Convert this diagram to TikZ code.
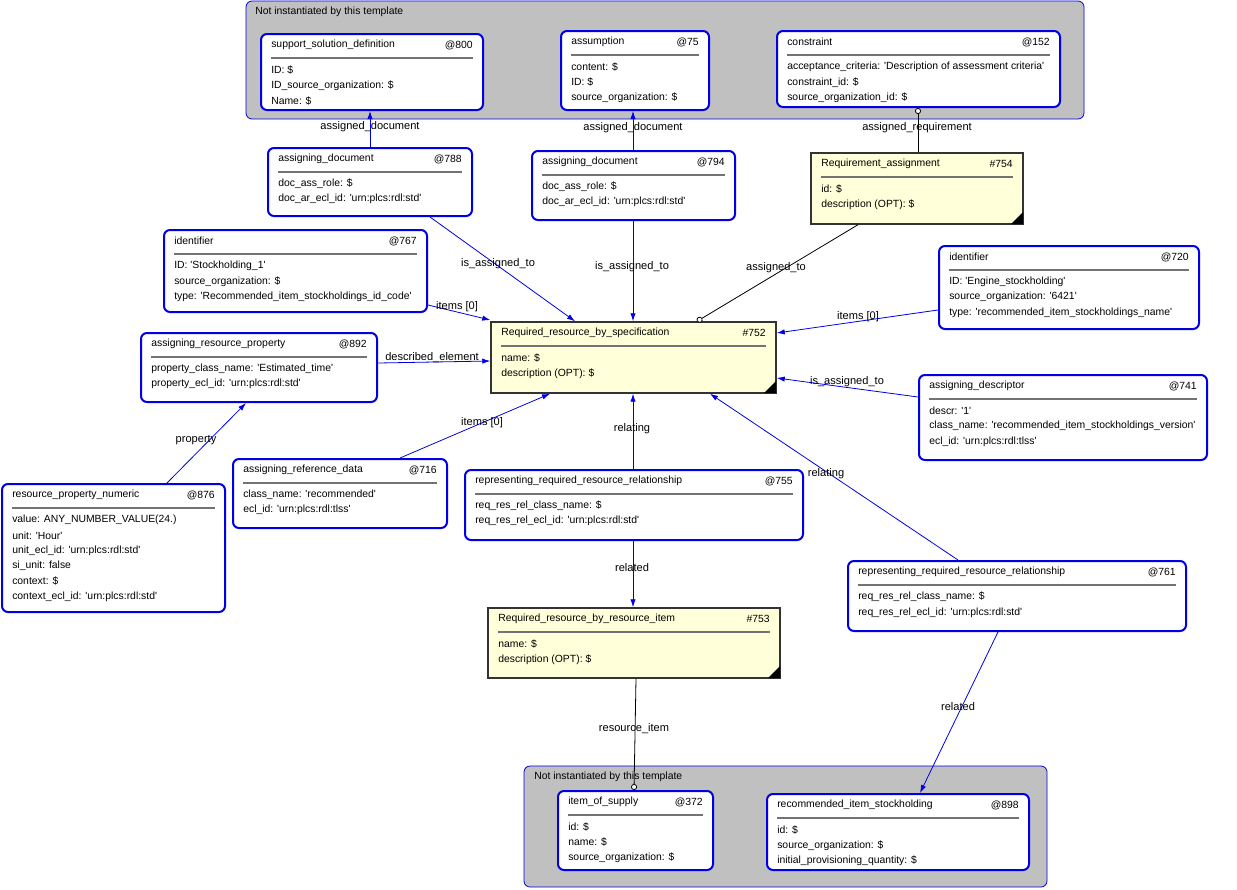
\documentclass[tikz,border=0pt]{standalone}
\usepackage{fontspec}
\setmainfont{Liberation Sans}
\usetikzlibrary{fit,calc,arrows.meta}
\definecolor{bl}{RGB}{0,0,230}
\definecolor{yel}{RGB}{255,255,217}
\definecolor{grp}{RGB}{192,192,192}
\newcommand\qq[1]{\textquotesingle#1\textquotesingle}
\tikzset{
 x=0.75pt,y=-0.75pt,
 every node/.style={font=\fontsize{7.8}{9}\selectfont, inner sep=0pt},
 ent/.style={draw=bl, line width=1.5pt, rounded corners=4.5pt, fill=white},
 req/.style={draw=black!80, line width=1.1pt, fill=yel},
 grpbox/.style={draw=bl, line width=0.6pt, rounded corners=4.5pt, fill=grp},
 con/.style={draw=bl, line width=0.6pt, -{Latex[length=6pt,width=4pt]}},
 ocon/.style={draw=black, line width=0.6pt, -{Circle[open,length=4.5pt,width=4.5pt,fill=white]}},
 lab/.style={font=\fontsize{8.3}{9}\selectfont}
}
\newcommand\ent[9]{%
 \node[fit={(#2,#3)(#4,#5)}, #6] (#1) {};
 \node[anchor=west] at (#2+10,#3+11) {#7};
 \node[anchor=east] at (#4-10,#3+11) {#8};
 \draw[line width=1pt, black!55] (#2+10,#3+24) -- (#4-10,#3+24);
 \foreach \t [count=\i] in {#9} { \node[anchor=west] at (#2+10,#3+36+15.3*\i-15.3) {\t}; }
}
\newcommand\corner[2]{\fill[black] (#1,#2) -- (#1-12,#2) -- (#1,#2-12) -- cycle;}
\begin{document}
\begin{tikzpicture}
\useasboundingbox (0,0) rectangle (1237,889);
% groups
\node[fit={(246,1)(1084,119)}, grpbox] (g1) {};
\node[anchor=west] at (255,12) {Not instantiated by this template};
\node[fit={(524,766)(1047,887)}, grpbox] (g2) {};
\node[anchor=west] at (534,777) {Not instantiated by this template};

\ent{ssd}{261}{34}{483}{110}{ent}{support\_solution\_definition}{@800}{ID: \$,ID\_source\_organization: \$,Name: \$}
\ent{ass}{561}{31}{709}{110}{ent}{assumption}{@75}{content: \$,ID: \$,source\_organization: \$}
\ent{cons}{777}{31}{1060}{107}{ent}{constraint}{@152}{acceptance\_criteria: \qq{Description of assessment criteria},constraint\_id: \$,source\_organization\_id: \$}
\ent{ad788}{268}{148}{472}{216}{ent}{assigning\_document}{@788}{doc\_ass\_role: \$,doc\_ar\_ecl\_id: \qq{urn:plcs:rdl:std}}
\ent{ad794}{532}{151}{735}{220}{ent}{assigning\_document}{@794}{doc\_ass\_role: \$,doc\_ar\_ecl\_id: \qq{urn:plcs:rdl:std}}
\ent{ra}{811}{153}{1023}{224}{req}{Requirement\_assignment}{\#754}{id: \$,description (OPT): \$}
\corner{1023}{224}
\ent{id767}{164}{230}{427}{312}{ent}{identifier}{@767}{ID: \qq{Stockholding\_1},source\_organization: \$,type: \qq{Recommended\_item\_stockholdings\_id\_code}}
\ent{id720}{939}{246}{1199}{329}{ent}{identifier}{@720}{ID: \qq{Engine\_stockholding},source\_organization: \qq{6421},type: \qq{recommended\_item\_stockholdings\_name}}
\ent{rs}{491}{322}{776}{393}{req}{Required\_resource\_by\_specification}{\#752}{name: \$,description (OPT): \$}
\corner{776}{393}
\ent{arp}{141}{333}{377}{402}{ent}{assigning\_resource\_property}{@892}{property\_class\_name: \qq{Estimated\_time},property\_ecl\_id: \qq{urn:plcs:rdl:std}}
\ent{adesc}{919}{375}{1207}{460}{ent}{assigning\_descriptor}{@741}{descr: \qq{1},class\_name: \qq{recommended\_item\_stockholdings\_version},ecl\_id: \qq{urn:plcs:rdl:tlss}}
\ent{rpn}{2}{484}{225}{612}{ent}{resource\_property\_numeric}{@876}{value: ANY\_NUMBER\_VALUE(24.),unit: \qq{Hour},unit\_ecl\_id: \qq{urn:plcs:rdl:std},si\_unit: false,context: \$,context\_ecl\_id: \qq{urn:plcs:rdl:std}}
\ent{ard}{233}{459}{447}{528}{ent}{assigning\_reference\_data}{@716}{class\_name: \qq{recommended},ecl\_id: \qq{urn:plcs:rdl:tlss}}
\ent{rr755}{465}{470}{803}{540}{ent}{representing\_required\_resource\_relationship}{@755}{req\_res\_rel\_class\_name: \$,req\_res\_rel\_ecl\_id: \qq{urn:plcs:rdl:std}}
\ent{rr761}{848}{561}{1186}{631}{ent}{representing\_required\_resource\_relationship}{@761}{req\_res\_rel\_class\_name: \$,req\_res\_rel\_ecl\_id: \qq{urn:plcs:rdl:std}}
\ent{ri}{488}{608}{780}{678}{req}{Required\_resource\_by\_resource\_item}{\#753}{name: \$,description (OPT): \$}
\corner{780}{678}
\ent{ios}{558}{791}{713}{870}{ent}{item\_of\_supply}{@372}{id: \$,name: \$,source\_organization: \$}
\ent{ris}{767}{794}{1029}{870}{ent}{recommended\_item\_stockholding}{@898}{id: \$,source\_organization: \$,initial\_provisioning\_quantity: \$}

% connectors
\draw[con] (ad788.north -| 370,0) -- (ssd.south -| 370,0);
\node[lab] at (370,127) {assigned\_document};
\draw[con] (ad794.north -| 633,0) -- (ass.south -| 633,0);
\node[lab] at (633,128) {assigned\_document};
\draw[ocon] (ra.north -| 918,0) -- (cons.south -| 918,0);
\node[lab] at (917,128) {assigned\_requirement};
\draw[con] (ad788.south -| 430,0) -- (rs.north -| 575,0);
\node[lab] at (498,264) {is\_assigned\_to};
\draw[con] (ad794.south -| 633,0) -- (rs.north -| 633,0);
\node[lab] at (632,267) {is\_assigned\_to};
\draw[ocon] (ra.south -| 858,0) -- (rs.north -| 697,0);
\node[lab] at (776,268) {assigned\_to};
\draw[con] (id767.east |- 0,305) -- (rs.west |- 0,320);
\node[lab] at (457,307) {items [0]};
\draw[con] (id720.west |- 0,310) -- (rs.east |- 0,333);
\node[lab] at (858,317) {items [0]};
\draw[con] (arp.east |- 0,363) -- (rs.west |- 0,361);
\node[lab] at (432,358) {described\_element};
\draw[con] (adesc.west |- 0,397) -- (rs.east |- 0,378);
\node[lab] at (847,382) {is\_assigned\_to};
\draw[con] (rpn.north -| 167,0) -- (arp.south -| 246,0);
\node[lab] at (196,440) {property};
\draw[con] (ard.north -| 400,0) -- (rs.south -| 550,0);
\node[lab] at (482,423) {items [0]};
\draw[con] (rr755.north -| 633,0) -- (rs.south -| 633,0);
\node[lab] at (632,429) {relating};
\draw[con] (rr761.north -| 958,0) -- (rs.south -| 710,0);
\node[lab] at (826,474) {relating};
\draw[con] (rr755.south -| 633,0) -- (ri.north -| 633,0);
\node[lab] at (632,568) {related};
\draw[ocon] (ri.south -| 636,0) -- (ios.north -| 634,0);
\node[lab] at (634,729) {resource\_item};
\draw[con] (rr761.south -| 998,0) -- (ris.north -| 920,0);
\node[lab] at (958,707) {related};
\end{tikzpicture}
\end{document}
